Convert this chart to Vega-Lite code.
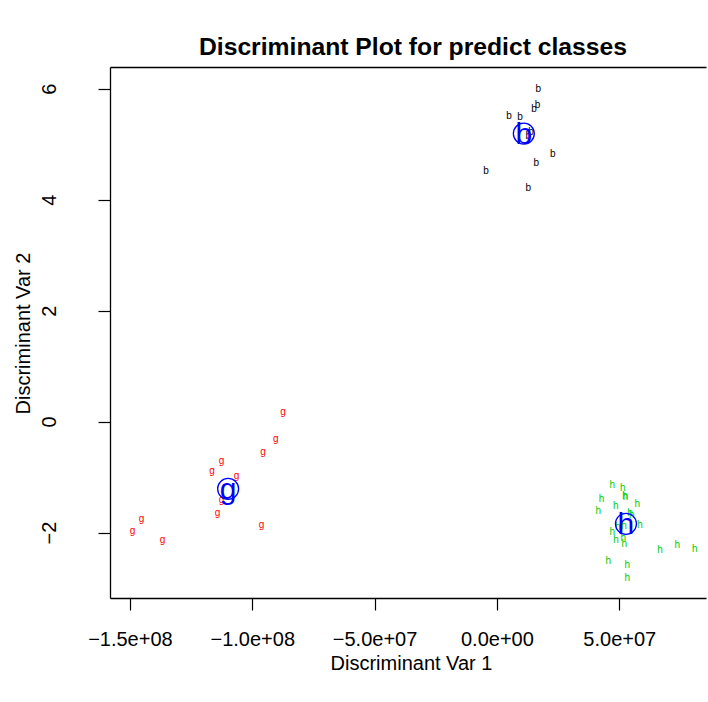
{
  "$schema": "https://vega.github.io/schema/vega-lite/v6.json",
  "width": 596,
  "height": 531,
  "autosize": {"type": "none"},
  "padding": {"left": 110, "top": 67, "right": 2, "bottom": 104},
  "background": "white",
  "config": {
    "view": {"stroke": null},
    "font": "Liberation Sans",
    "axis": {"grid": false, "domainColor": "black", "domainWidth": 1.3, "tickColor": "black", "tickWidth": 1.2, "labelColor": "black", "titleColor": "black", "labelFont": "Liberation Sans", "titleFont": "Liberation Sans", "titleFontWeight": "normal", "labelFontSize": 20, "titleFontSize": 20}
  },
  "title": {"text": "Discriminant Plot for predict classes", "fontSize": 24.7, "fontWeight": "bold", "font": "Liberation Sans", "color": "black", "anchor": "middle", "baseline": "alphabetic", "offset": 12, "dx": 5, "dy": 25},
  "data": {"values": [
    {"x": 16890000, "y": 6.0, "cls": "b", "kind": "obs"},
    {"x": 16640000, "y": 5.70, "cls": "b", "kind": "obs"},
    {"x": 15130000, "y": 5.63, "cls": "b", "kind": "obs"},
    {"x": 4900000, "y": 5.50, "cls": "b", "kind": "obs"},
    {"x": 9400000, "y": 5.49, "cls": "b", "kind": "obs"},
    {"x": 13900000, "y": 5.22, "cls": "b", "kind": "obs"},
    {"x": 12800000, "y": 5.14, "cls": "b", "kind": "obs"},
    {"x": 22800000, "y": 4.82, "cls": "b", "kind": "obs"},
    {"x": 16100000, "y": 4.66, "cls": "b", "kind": "obs"},
    {"x": -4400000, "y": 4.51, "cls": "b", "kind": "obs"},
    {"x": 12800000, "y": 4.21, "cls": "b", "kind": "obs"},
    {"x": -87370000, "y": 0.175, "cls": "g", "kind": "obs"},
    {"x": -90350000, "y": -0.312, "cls": "g", "kind": "obs"},
    {"x": -95540000, "y": -0.546, "cls": "g", "kind": "obs"},
    {"x": -112550000, "y": -0.715, "cls": "g", "kind": "obs"},
    {"x": -116400000, "y": -0.895, "cls": "g", "kind": "obs"},
    {"x": -106400000, "y": -0.973, "cls": "g", "kind": "obs"},
    {"x": -112550000, "y": -1.42, "cls": "g", "kind": "obs"},
    {"x": -114200000, "y": -1.645, "cls": "g", "kind": "obs"},
    {"x": -96200000, "y": -1.856, "cls": "g", "kind": "obs"},
    {"x": -145260000, "y": -1.748, "cls": "g", "kind": "obs"},
    {"x": -148940000, "y": -1.964, "cls": "g", "kind": "obs"},
    {"x": -136670000, "y": -2.126, "cls": "g", "kind": "obs"},
    {"x": 47140000, "y": -1.135, "cls": "h", "kind": "obs"},
    {"x": 51390000, "y": -1.195, "cls": "h", "kind": "obs"},
    {"x": 52330000, "y": -1.333, "cls": "h", "kind": "obs"},
    {"x": 52600000, "y": -1.357, "cls": "h", "kind": "obs"},
    {"x": 42800000, "y": -1.393, "cls": "h", "kind": "obs"},
    {"x": 57360000, "y": -1.483, "cls": "h", "kind": "obs"},
    {"x": 48530000, "y": -1.526, "cls": "h", "kind": "obs"},
    {"x": 41410000, "y": -1.616, "cls": "h", "kind": "obs"},
    {"x": 54370000, "y": -1.645, "cls": "h", "kind": "obs"},
    {"x": 55070000, "y": -1.676, "cls": "h", "kind": "obs"},
    {"x": 58460000, "y": -1.856, "cls": "h", "kind": "obs"},
    {"x": 49350000, "y": -1.897, "cls": "h", "kind": "obs"},
    {"x": 51900000, "y": -1.89, "cls": "h", "kind": "obs"},
    {"x": 47140000, "y": -1.995, "cls": "h", "kind": "obs"},
    {"x": 51630000, "y": -2.095, "cls": "h", "kind": "obs"},
    {"x": 48650000, "y": -2.126, "cls": "h", "kind": "obs"},
    {"x": 52040000, "y": -2.198, "cls": "h", "kind": "obs"},
    {"x": 66640000, "y": -2.306, "cls": "h", "kind": "obs"},
    {"x": 73710000, "y": -2.216, "cls": "h", "kind": "obs"},
    {"x": 80830000, "y": -2.288, "cls": "h", "kind": "obs"},
    {"x": 45500000, "y": -2.517, "cls": "h", "kind": "obs"},
    {"x": 53270000, "y": -2.577, "cls": "h", "kind": "obs"},
    {"x": 53270000, "y": -2.816, "cls": "h", "kind": "obs"},
    {"x": 11000000, "y": 5.19, "cls": "b", "kind": "center"},
    {"x": -109850000, "y": -1.213, "cls": "g", "kind": "center"},
    {"x": 52740000, "y": -1.843, "cls": "h", "kind": "center"}
  ]},
  "layer": [
    {
      "transform": [{"filter": "datum.kind === 'obs'"}],
      "mark": {"type": "text", "fontSize": 10, "baseline": "middle", "align": "center", "font": "Liberation Sans"},
      "encoding": {
        "x": {"field": "x", "type": "quantitative", "scale": {"domain": [-158130000, 85450000], "nice": false, "zero": false},
              "axis": {"orient": "bottom", "values": [-150000000, -100000000, -50000000, 0, 50000000], "tickSize": 12, "labelPadding": 35, "labelBaseline": "alphabetic", "labelFlush": false, "labelOverlap": false,
                       "labelExpr": "replace(replace(format(datum.value, '.1e'), 'e+', 'e+0'), 'e-', 'e-0')",
                       "title": "Discriminant Var 1", "titleX": 301, "titleY": 71, "titleBaseline": "alphabetic", "titleAnchor": "middle", "titleAlign": "center"}},
        "y": {"field": "y", "type": "quantitative", "scale": {"domain": [-3.18, 6.39], "nice": false, "zero": false},
              "axis": {"orient": "left", "values": [-2, 0, 2, 4, 6], "tickSize": 12, "labelAngle": -90, "labelAlign": "center", "labelBaseline": "alphabetic", "labelPadding": 43, "labelFlush": false, "labelOverlap": false,
                       "labelExpr": "replace(format(datum.value, 'd'), '-', '\u2212')",
                       "title": "Discriminant Var 2", "titleAngle": -90, "titleX": -81, "titleY": 266, "titleBaseline": "alphabetic", "titleAlign": "center"}},
        "text": {"field": "cls", "type": "nominal"},
        "color": {"field": "cls", "type": "nominal", "scale": {"domain": ["b", "g", "h"], "range": ["#000000", "#FF0000", "#00CD00"]}, "legend": null}
      }
    },
    {
      "transform": [{"filter": "datum.kind === 'center'"}],
      "mark": {"type": "text", "fontSize": 30, "baseline": "middle", "align": "center", "color": "#0000FF", "font": "Liberation Sans", "dy": 1},
      "encoding": {
        "x": {"field": "x", "type": "quantitative", "axis": {"orient": "top", "labels": false, "ticks": false, "domain": true, "title": null, "values": []}},
        "y": {"field": "y", "type": "quantitative"},
        "text": {"field": "cls", "type": "nominal"}
      }
    },
    {
      "transform": [{"filter": "datum.kind === 'center'"}],
      "mark": {"type": "point", "shape": "circle", "filled": false, "size": 440, "stroke": "#0000FF", "strokeWidth": 1.3, "opacity": 1},
      "encoding": {
        "x": {"field": "x", "type": "quantitative", "axis": null},
        "y": {"field": "y", "type": "quantitative"}
      }
    }
  ],
  "resolve": {"axis": {"x": "independent"}}
}
